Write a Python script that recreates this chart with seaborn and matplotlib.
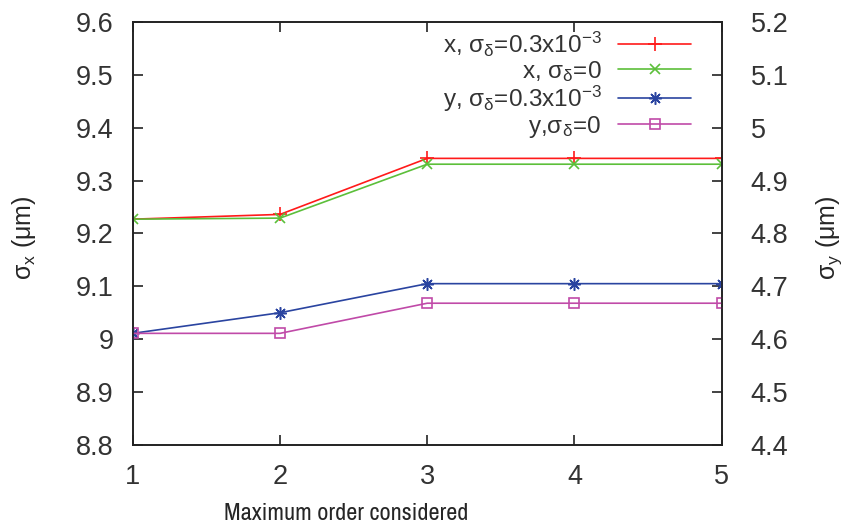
import numpy as np
import pandas as pd
import matplotlib
matplotlib.use("Agg")
import matplotlib.pyplot as plt
import seaborn as sns
from matplotlib import font_manager

orders = [1, 2, 3, 4, 5]
sx_spread = [9.227, 9.236, 9.342, 9.342, 9.342]
sx_nospread = [9.227, 9.229, 9.331, 9.331, 9.331]
sy_spread = [4.611, 4.650, 4.705, 4.705, 4.705]
sy_nospread = [4.611, 4.611, 4.668, 4.668, 4.668]

labels = [r"x, σ$_\mathregular{δ}$=0.3x10$^\mathregular{-3}$",
          r"x, σ$_\mathregular{δ}$=0",
          r"y, σ$_\mathregular{δ}$=0.3x10$^\mathregular{-3}$",
          r"y,σ$_\mathregular{δ}$=0"]
colors = ["#ff1a1a", "#5cbf3a", "#2a44a0", "#c04aa8"]

sns.set_style("ticks")
names = {f.name for f in font_manager.fontManager.ttflist}
main_font = "Liberation Sans" if "Liberation Sans" in names else "DejaVu Sans"
narrow_font = "Archivo Narrow" if "Archivo Narrow" in names else main_font
plt.rcParams["font.family"] = [main_font, "DejaVu Sans"]
plt.rcParams["mathtext.fontset"] = "custom"
plt.rcParams["mathtext.rm"] = main_font
plt.rcParams["mathtext.it"] = main_font + ":italic"
plt.rcParams["text.color"] = "#333333"

fig = plt.figure(figsize=(8.46, 5.24), dpi=100)
ax = fig.add_axes([0.157, 0.151, 0.696, 0.807])
ax2 = ax.twinx()

dfx1 = pd.DataFrame({"order": orders, "v": sx_spread})
dfx2 = pd.DataFrame({"order": orders, "v": sx_nospread})
dfy1 = pd.DataFrame({"order": orders, "v": sy_spread})
dfy2 = pd.DataFrame({"order": orders, "v": sy_nospread})

sns.lineplot(data=dfx1, x="order", y="v", ax=ax, color=colors[0], marker="+",
             markersize=10, markeredgewidth=1.2, markeredgecolor=colors[0],
             linewidth=1.2, label=labels[0], legend=False)
sns.lineplot(data=dfx2, x="order", y="v", ax=ax, color=colors[1], marker="x",
             markersize=7, markeredgewidth=1.2, markeredgecolor=colors[1],
             linewidth=1.2, label=labels[1], legend=False)
sns.lineplot(data=dfy1, x="order", y="v", ax=ax2, color=colors[2], marker=(8, 2, 0),
             markersize=9, markeredgewidth=1.1, markeredgecolor=colors[2],
             linewidth=1.2, label=labels[2], legend=False)
sns.lineplot(data=dfy2, x="order", y="v", ax=ax2, color=colors[3], marker="s",
             markersize=6.5, markerfacecolor="none", markeredgecolor=colors[3],
             markeredgewidth=1.2, linewidth=1.2, label=labels[3], legend=False)

ax.set_xlim(1, 5)
ax.set_ylim(8.8, 9.6)
ax2.set_ylim(4.4, 5.2)
ax.set_xticks(orders)
ax.set_xticklabels([str(o) for o in orders])
lt = [8.8, 8.9, 9.0, 9.1, 9.2, 9.3, 9.4, 9.5, 9.6]
ax.set_yticks(lt)
ax.set_yticklabels(["8.8", "8.9", "9", "9.1", "9.2", "9.3", "9.4", "9.5", "9.6"])
rt = [4.4, 4.5, 4.6, 4.7, 4.8, 4.9, 5.0, 5.1, 5.2]
ax2.set_yticks(rt)
ax2.set_yticklabels(["4.4", "4.5", "4.6", "4.7", "4.8", "4.9", "5", "5.1", "5.2"])

for a in (ax, ax2):
    for s in a.spines.values():
        s.set_visible(True)
        s.set_color("#222222")
        s.set_linewidth(1.2)
ax.tick_params(axis="x", direction="in", top=True, length=7, width=1.2,
               labelsize=19.5, pad=14, colors="#222222", labelcolor="#333333")
ax.tick_params(axis="y", direction="in", length=7, width=1.2,
               labelsize=19.5, pad=14, colors="#222222", labelcolor="#333333")
ax2.tick_params(axis="y", direction="in", length=7, width=1.2,
                labelsize=19.5, pad=21, colors="#222222", labelcolor="#333333")

ax.set_xlabel("Maximum order considered", fontsize=17.5, family=[narrow_font, "DejaVu Sans"],
              va="baseline")
ax.xaxis.set_label_coords(0.363, -0.178)
ax.set_ylabel(r"σ$_\mathregular{x}$ (μm)", fontsize=18)
ax.yaxis.set_label_coords(-0.161, 0.49)
ax2.set_ylabel(r"σ$_\mathregular{y}$ (μm)", fontsize=18)
ax2.yaxis.set_label_coords(1.158, 0.49)

h1, l1 = ax.get_legend_handles_labels()
h2, l2 = ax2.get_legend_handles_labels()
leg = ax2.legend(h1 + h2, l1 + l2, loc="upper right", markerfirst=False, frameon=False,
                 fontsize=17.5, handlelength=3.0, labelspacing=0.0, borderaxespad=0.0,
                 handletextpad=0.7, bbox_to_anchor=(0.965, 1.005))

fig.savefig("out.png", dpi=100)
